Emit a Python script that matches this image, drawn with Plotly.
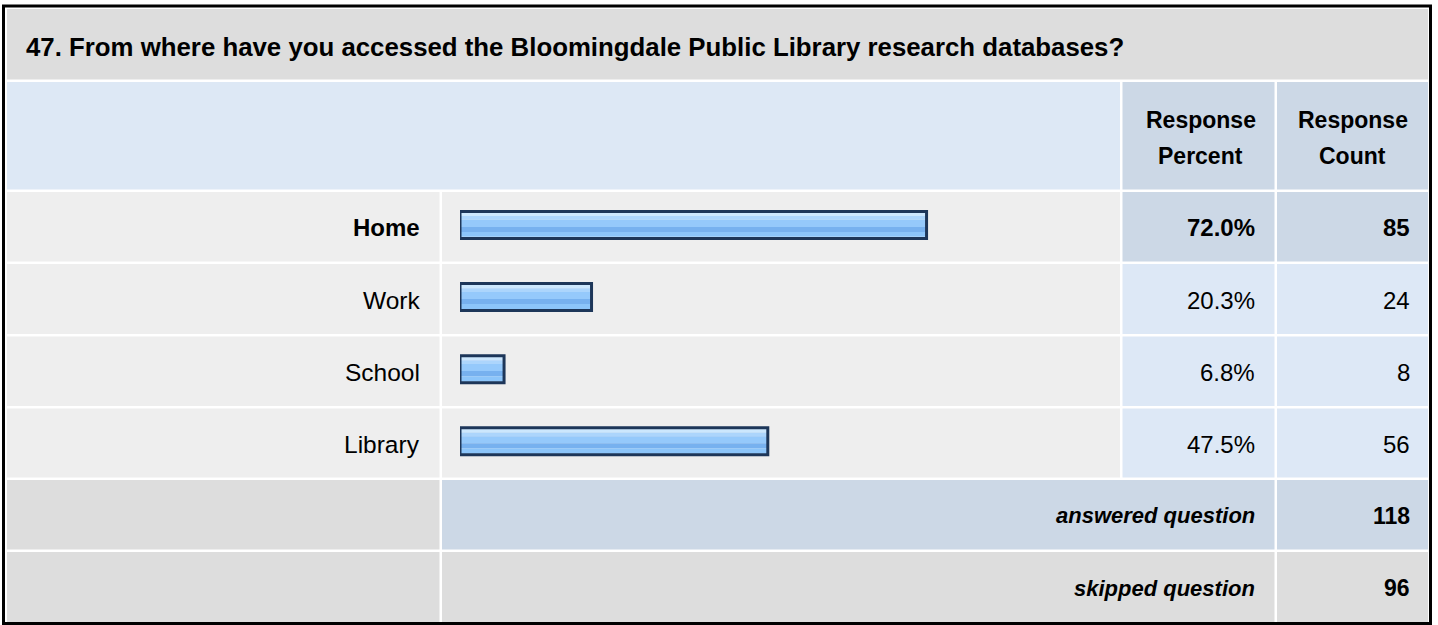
import plotly.graph_objects as go

# ---------------- data ----------------
title = "47. From where have you accessed the Bloomingdale Public Library research databases?"
categories = ["Home", "Work", "School", "Library"]
percents = [72.0, 20.3, 6.8, 47.5]
counts = [85, 24, 8, 56]
header_percent = ["Response", "Percent"]
header_count = ["Response", "Count"]
answered_label = "answered question"
answered_count = 118
skipped_label = "skipped question"
skipped_count = 96

# ---------------- layout helpers (pixels -> paper) ----------------
W, H = 1438, 625
FONT = "Liberation Sans, Arial, Helvetica, sans-serif"


def px(x):
    return x / W


def py(y):
    return 1 - y / H


# column extents in pixels
C1 = (7, 439.5)
C2 = (442, 1120)
C3 = (1122.5, 1274.5)
C4 = (1277, 1428)
# row extents
R_TITLE = (9, 79.5)
R_HEAD = (82, 189.5)
R_DATA = [(192, 261.5), (264, 334), (336.5, 406), (408.5, 477.5)]
R_ANS = (480, 549.5)
R_SKIP = (552, 622)

GRAY = "#dddddd"
ROWBG = "#eeeeee"
LBLUE = "#dde8f6"
MBLUE = "#ccd8e6"

shapes = []


def cell(x0, x1, y0, y1, color):
    shapes.append(dict(type="rect", xref="paper", yref="paper",
                       x0=px(x0), x1=px(x1), y0=py(y1), y1=py(y0),
                       fillcolor=color, line=dict(width=0), layer="below"))


cell(C1[0], C4[1], *R_TITLE, GRAY)
cell(C1[0], C2[1], *R_HEAD, "#dde8f5")
cell(*C3, *R_HEAD, MBLUE)
cell(*C4, *R_HEAD, MBLUE)
top = max(range(len(percents)), key=lambda i: percents[i])
for i, (y0, y1) in enumerate(R_DATA):
    cell(*C1, y0, y1, ROWBG)
    cell(*C2, y0, y1, ROWBG)
    c = MBLUE if i == top else LBLUE
    cell(*C3, y0, y1, c)
    cell(*C4, y0, y1, c)
cell(*C1, *R_ANS, GRAY)
cell(C2[0], C3[1], *R_ANS, MBLUE)
cell(*C4, *R_ANS, MBLUE)
cell(*C1, *R_SKIP, GRAY)
cell(C2[0], C3[1], *R_SKIP, GRAY)
cell(*C4, *R_SKIP, GRAY)
# outer black frame
shapes.append(dict(type="rect", xref="paper", yref="paper",
                   x0=px(3.5), x1=px(1430.5), y0=py(623.5), y1=py(6),
                   fillcolor="rgba(0,0,0,0)", line=dict(color="#000000", width=3),
                   layer="above"))

annotations = []


def text(x, y, s, size, anchor="right", bold=False, italic=False):
    if bold:
        s = "<b>" + s + "</b>"
    if italic:
        s = "<i>" + s + "</i>"
    annotations.append(dict(xref="paper", yref="paper", x=px(x), y=py(y), text=s,
                            showarrow=False, xanchor=anchor, yanchor="middle",
                            font=dict(family=FONT, size=size, color="#000000")))


text(24, 47, title, 25.8, anchor="left", bold=True)
xc3 = (C3[0] + C3[1]) / 2 + 2
xc4 = (C4[0] + C4[1]) / 2
text(xc3, 120, header_percent[0], 23, anchor="center", bold=True)
text(xc3, 156, header_percent[1], 23, anchor="center", bold=True)
text(xc4, 120, header_count[0], 23, anchor="center", bold=True)
text(xc4, 156, header_count[1], 23, anchor="center", bold=True)
for i, (y0, y1) in enumerate(R_DATA):
    yc = (y0 + y1) / 2 + 1
    b = i == top
    text(422, yc, categories[i], 24.5 if not b else 24, bold=b)
    text(1257, yc, f"{percents[i]:.1f}%", 24, bold=b)
    text(1412, yc, str(counts[i]), 24, bold=b)
yA = (R_ANS[0] + R_ANS[1]) / 2 + 1
text(1257, yA, answered_label, 22, bold=True, italic=True)
text(1412, yA, str(answered_count), 23, bold=True)
yS = (R_SKIP[0] + R_SKIP[1]) / 2 + 1
text(1257, yS, skipped_label, 22, bold=True, italic=True)
text(1412, yS, str(skipped_count), 23, bold=True)

# ---------------- bars ----------------
fig = go.Figure()
pitch = 72.1
h = 27 / pitch  # filled bar height in category units
stripes = [(0.0, 0.17, "#cce7fd"), (0.17, 0.31, "#acd5fc"), (0.31, 0.57, "#95c9fb"),
           (0.57, 0.76, "#77b1ef"), (0.76, 0.94, "#8cc5fa"), (0.94, 1.0, "#a3d1fb")]
for f0, f1, col in stripes:
    fig.add_trace(go.Bar(y=categories, x=percents, orientation="h",
                         offset=-h / 2 + f0 * h, width=(f1 - f0) * h,
                         marker=dict(color=col, line=dict(width=0)),
                         hoverinfo="skip", showlegend=False))
fig.add_trace(go.Bar(y=categories, x=percents, orientation="h",
                     offset=-h / 2, width=h,
                     marker=dict(color="rgba(0,0,0,0)", line=dict(color="#1d3659", width=3)),
                     hovertemplate="%{y}: %{x}%<extra></extra>", showlegend=False))

y_top = 225 - pitch / 2
y_bot = 225 + 3 * pitch + pitch / 2
fig.update_layout(
    width=W, height=H, autosize=False,
    margin=dict(l=0, r=0, t=0, b=0, pad=0),
    paper_bgcolor="#ffffff", plot_bgcolor="rgba(0,0,0,0)",
    barmode="overlay",
    xaxis=dict(domain=[px(460), px(1108)], range=[0, 100], visible=False, fixedrange=True),
    yaxis=dict(domain=[py(y_bot), py(y_top)], type="category", categoryorder="array",
               categoryarray=categories, range=[3.5, -0.5], visible=False, fixedrange=True),
    shapes=shapes, annotations=annotations,
    showlegend=False,
)

fig.write_html("out.html", config={"displayModeBar": False},
               post_script="document.body.style.margin='0';")
